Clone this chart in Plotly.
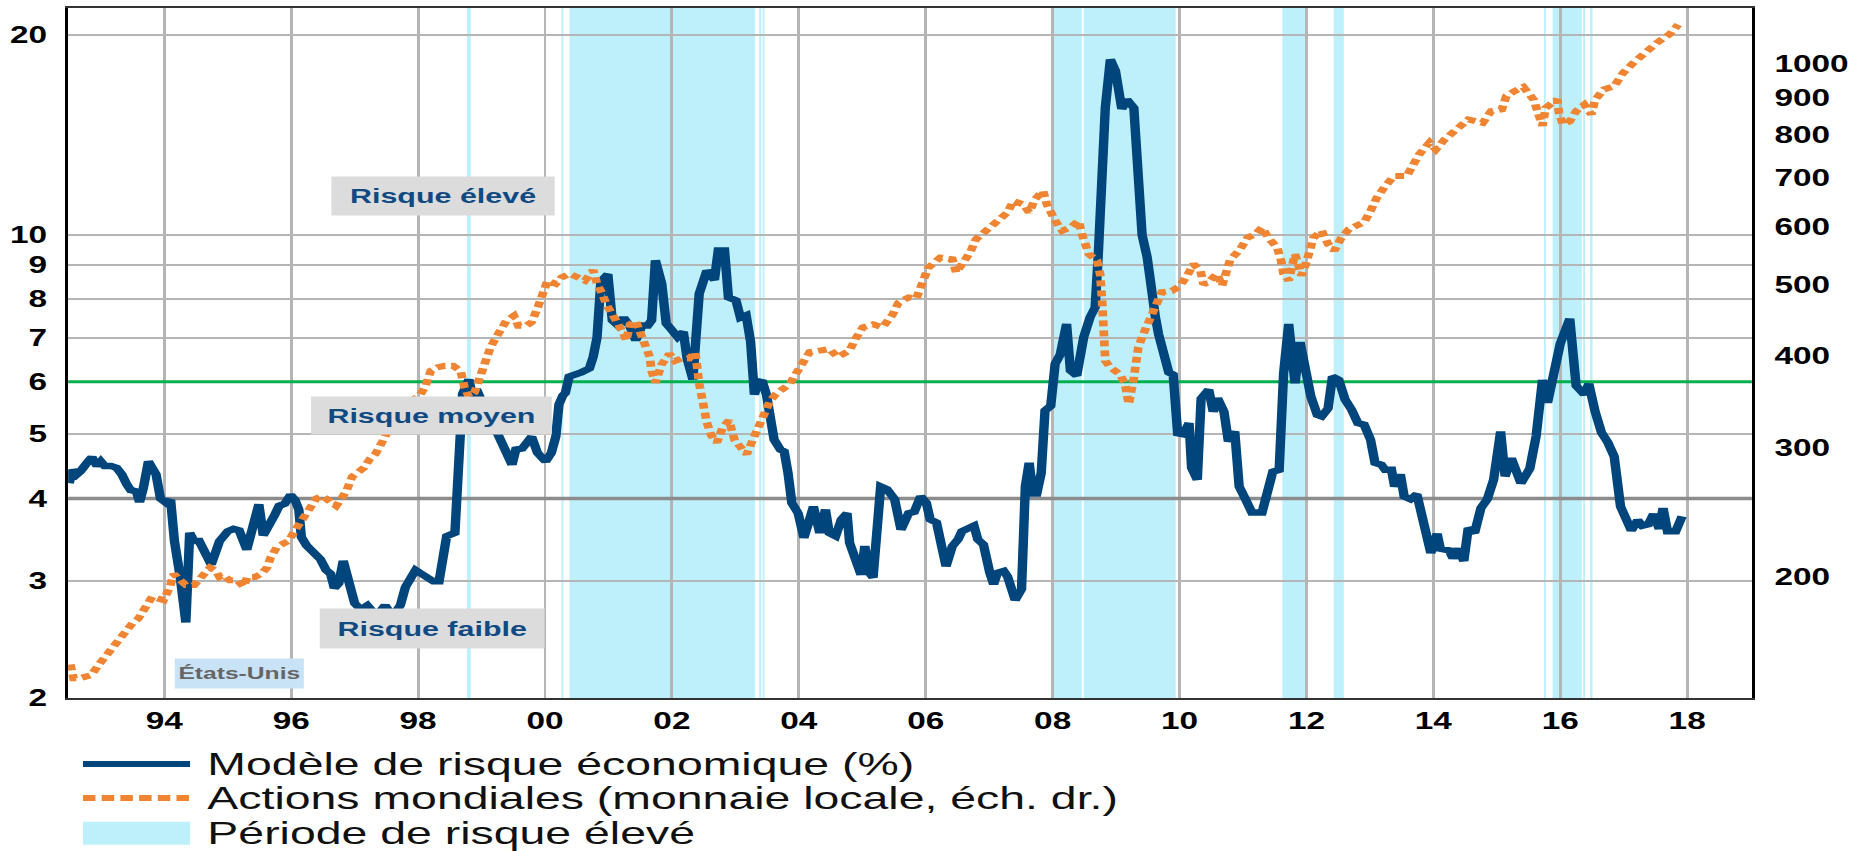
import math
import plotly.graph_objects as go

# Modèle de risque économique (%) - dates (decimal years) and values
risk_years = [
    1992.50, 1992.56, 1992.62, 1992.68, 1992.80, 1992.86, 1992.94, 1993.00, 1993.06, 1993.16,
    1993.25, 1993.33, 1993.41, 1993.47, 1993.56, 1993.61, 1993.67, 1993.75, 1993.81, 1993.87,
    1993.94, 1994.03, 1994.10, 1994.16, 1994.25, 1994.34, 1994.40, 1994.47, 1994.55, 1994.65,
    1994.74, 1994.87, 1995.00, 1995.09, 1995.18, 1995.30, 1995.43, 1995.49, 1995.56, 1995.65,
    1995.74, 1995.81, 1995.90, 1995.99, 1996.06, 1996.12, 1996.16, 1996.24, 1996.34, 1996.46,
    1996.55, 1996.62, 1996.68, 1996.75, 1996.82, 1996.90, 1997.00, 1997.10, 1997.20, 1997.30,
    1997.40, 1997.48, 1997.55, 1997.64, 1997.72, 1997.80, 1997.88, 1997.96, 1998.05, 1998.14,
    1998.24, 1998.33, 1998.45, 1998.58, 1998.64, 1998.70, 1998.80, 1998.86, 1998.92, 1999.00,
    1999.10, 1999.20, 1999.33, 1999.48, 1999.54, 1999.64, 1999.79, 1999.88, 2000.01, 2000.10,
    2000.17, 2000.22, 2000.28, 2000.32, 2000.38, 2000.48, 2000.57, 2000.70, 2000.76, 2000.82,
    2000.88, 2000.99, 2001.06, 2001.15, 2001.24, 2001.33, 2001.43, 2001.53, 2001.62, 2001.68,
    2001.74, 2001.84, 2001.91, 2001.99, 2002.09, 2002.18, 2002.24, 2002.33, 2002.43, 2002.55,
    2002.67, 2002.73, 2002.83, 2002.89, 2003.01, 2003.08, 2003.17, 2003.24, 2003.27, 2003.30,
    2003.36, 2003.42, 2003.49, 2003.55, 2003.61, 2003.71, 2003.77, 2003.83, 2003.89, 2003.99,
    2004.08, 2004.14, 2004.23, 2004.33, 2004.42, 2004.48, 2004.58, 2004.67, 2004.76, 2004.80,
    2004.89, 2004.98, 2005.04, 2005.11, 2005.17, 2005.23, 2005.29, 2005.39, 2005.51, 2005.61,
    2005.73, 2005.82, 2005.92, 2006.01, 2006.07, 2006.17, 2006.26, 2006.32, 2006.42, 2006.51,
    2006.57, 2006.76, 2006.82, 2006.91, 2007.01, 2007.07, 2007.13, 2007.23, 2007.29, 2007.35,
    2007.41, 2007.51, 2007.57, 2007.63, 2007.69, 2007.75, 2007.82, 2007.88, 2007.97, 2008.04,
    2008.12, 2008.22, 2008.28, 2008.38, 2008.43, 2008.49, 2008.59, 2008.67, 2008.72, 2008.78,
    2008.83, 2008.91, 2008.99, 2009.09, 2009.17, 2009.28, 2009.33, 2009.41, 2009.49, 2009.56,
    2009.62, 2009.67, 2009.77, 2009.83, 2009.90, 2009.97, 2010.06, 2010.15, 2010.19, 2010.28,
    2010.34, 2010.46, 2010.53, 2010.60, 2010.70, 2010.77, 2010.87, 2010.94, 2011.04, 2011.14,
    2011.30, 2011.40, 2011.47, 2011.57, 2011.64, 2011.72, 2011.82, 2011.90, 2012.00, 2012.07,
    2012.17, 2012.24, 2012.34, 2012.41, 2012.51, 2012.61, 2012.71, 2012.81, 2012.91, 2013.01,
    2013.08, 2013.18, 2013.24, 2013.34, 2013.39, 2013.48, 2013.54, 2013.64, 2013.74, 2013.84,
    2013.96, 2014.06, 2014.11, 2014.25, 2014.31, 2014.39, 2014.48, 2014.55, 2014.65, 2014.75,
    2014.85, 2014.95, 2015.06, 2015.13, 2015.23, 2015.38, 2015.52, 2015.62, 2015.72, 2015.80,
    2015.90, 2016.00, 2016.15, 2016.25, 2016.38, 2016.45, 2016.55, 2016.65, 2016.75, 2016.85,
    2016.95, 2017.05, 2017.12, 2017.22, 2017.29, 2017.39, 2017.47, 2017.56, 2017.62, 2017.69,
    2017.82, 2017.92,
]
risk_values = [
    4.22, 4.42, 4.35, 4.40, 4.55, 4.62, 4.48, 4.55, 4.48, 4.48,
    4.45, 4.35, 4.20, 4.12, 4.10, 3.95, 4.15, 4.55, 4.45, 4.35,
    4.00, 3.94, 3.98, 3.45, 3.05, 2.60, 3.55, 3.45, 3.45, 3.30,
    3.18, 3.45, 3.57, 3.60, 3.58, 3.35, 3.70, 3.92, 3.52, 3.68,
    3.78, 3.90, 3.93, 4.05, 3.98, 3.85, 3.50, 3.40, 3.32, 3.24,
    3.12, 3.08, 2.93, 2.98, 3.22, 3.05, 2.78, 2.72, 2.76, 2.69,
    2.70, 2.76, 2.70, 2.69, 2.76, 2.94, 3.02, 3.12, 3.08, 3.05,
    3.00, 3.00, 3.51, 3.55, 4.40, 5.75, 6.05, 5.70, 5.85, 5.60,
    5.35, 5.14, 4.80, 4.50, 4.74, 4.76, 4.96, 4.69, 4.55, 4.69,
    4.96, 5.55, 5.72, 5.77, 6.11, 6.18, 6.20, 6.29, 6.55, 7.00,
    8.50, 8.72, 7.43, 7.30, 7.50, 7.30, 6.93, 7.30, 7.30, 7.43,
    9.15, 8.44, 7.35, 7.20, 7.01, 7.14, 6.50, 6.05, 8.15, 8.83,
    8.55, 9.47, 9.47, 8.05, 7.96, 7.50, 7.56, 6.90, 6.18, 5.74,
    5.98, 6.03, 5.74, 5.26, 4.91, 4.74, 4.71, 4.37, 3.94, 3.80,
    3.49, 3.64, 3.89, 3.55, 3.85, 3.55, 3.51, 3.72, 3.80, 3.43,
    3.20, 3.07, 3.39, 3.09, 3.04, 3.47, 4.17, 4.13, 3.99, 3.59,
    3.80, 3.82, 4.03, 3.94, 3.72, 3.68, 3.35, 3.16, 3.39, 3.47,
    3.57, 3.64, 3.47, 3.41, 3.09, 2.97, 3.09, 3.11, 3.05, 2.88,
    2.81, 2.92, 4.17, 4.53, 4.07, 4.07, 4.37, 5.43, 5.52, 6.39,
    6.60, 7.34, 6.24, 6.13, 6.60, 7.01, 7.51, 7.77, 9.35, 12.3,
    15.55, 18.4, 17.7, 15.5, 16.0, 15.55, 12.3, 10.0, 9.25, 7.96,
    7.51, 7.08, 6.39, 6.20, 6.15, 5.02, 5.00, 5.20, 4.45, 4.27,
    5.66, 5.84, 5.41, 5.67, 5.41, 4.88, 5.05, 4.17, 3.99, 3.81,
    3.81, 4.13, 4.39, 4.42, 6.18, 7.34, 5.97, 6.89, 6.18, 5.70,
    5.35, 5.32, 5.47, 6.11, 6.04, 5.64, 5.45, 5.20, 5.17, 4.91,
    4.53, 4.50, 4.42, 4.42, 4.17, 4.35, 4.03, 3.99, 4.06, 3.71,
    3.31, 3.54, 3.36, 3.34, 3.25, 3.36, 3.22, 3.61, 3.55, 3.87,
    3.99, 4.27, 5.05, 4.32, 4.60, 4.22, 4.44, 4.97, 6.04, 5.58,
    6.10, 6.85, 7.47, 5.92, 5.74, 5.96, 5.41, 5.03, 4.86, 4.63,
    3.89, 3.71, 3.58, 3.71, 3.64, 3.66, 3.79, 3.60, 3.87, 3.57,
    3.57, 3.76,
]

# Actions mondiales (monnaie locale) - dates (decimal years) and index level
equity_years = [
    1992.52, 1992.57, 1992.66, 1992.85, 1992.97, 1993.10, 1993.22, 1993.35, 1993.50, 1993.59,
    1993.72, 1993.81, 1993.90, 1993.99, 1994.09, 1994.15, 1994.25, 1994.34, 1994.47, 1994.56,
    1994.65, 1994.72, 1994.81, 1994.87, 1994.93, 1995.03, 1995.15, 1995.25, 1995.31, 1995.43,
    1995.53, 1995.62, 1995.68, 1995.78, 1995.87, 1995.96, 1996.06, 1996.15, 1996.27, 1996.40,
    1996.49, 1996.59, 1996.71, 1996.78, 1996.87, 1996.96, 1997.05, 1997.15, 1997.24, 1997.33,
    1997.43, 1997.49, 1997.58, 1997.68, 1997.77, 1997.89, 1998.02, 1998.11, 1998.20, 1998.30,
    1998.42, 1998.55, 1998.67, 1998.73, 1998.80, 1998.89, 1998.95, 1999.05, 1999.14, 1999.20,
    1999.30, 1999.39, 1999.51, 1999.58, 1999.70, 1999.79, 1999.89, 1999.98, 2000.04, 2000.17,
    2000.26, 2000.39, 2000.51, 2000.63, 2000.76, 2000.82, 2000.90, 2000.97, 2001.07, 2001.18,
    2001.24, 2001.28, 2001.34, 2001.43, 2001.49, 2001.59, 2001.65, 2001.68, 2001.74, 2001.84,
    2001.96, 2002.05, 2002.15, 2002.27, 2002.37, 2002.43, 2002.50, 2002.55, 2002.62, 2002.71,
    2002.80, 2002.90, 2002.99, 2003.08, 2003.18, 2003.27, 2003.36, 2003.46, 2003.55, 2003.64,
    2003.74, 2003.86, 2003.95, 2004.05, 2004.17, 2004.33, 2004.48, 2004.61, 2004.80, 2004.89,
    2005.01, 2005.17, 2005.32, 2005.48, 2005.57, 2005.73, 2005.85, 2005.95, 2006.04, 2006.23,
    2006.42, 2006.48, 2006.57, 2006.70, 2006.79, 2006.95, 2007.10, 2007.29, 2007.38, 2007.54,
    2007.63, 2007.72, 2007.85, 2007.91, 2008.04, 2008.15, 2008.28, 2008.41, 2008.46, 2008.57,
    2008.70, 2008.75, 2008.78, 2008.80, 2008.83, 2008.91, 2009.06, 2009.14, 2009.17, 2009.20,
    2009.28, 2009.35, 2009.43, 2009.54, 2009.62, 2009.72, 2009.88, 2010.01, 2010.12, 2010.22,
    2010.33, 2010.38, 2010.48, 2010.59, 2010.67, 2010.80, 2010.94, 2011.07, 2011.20, 2011.30,
    2011.40, 2011.54, 2011.60, 2011.64, 2011.72, 2011.77, 2011.82, 2011.87, 2011.92, 2012.00,
    2012.11, 2012.24, 2012.34, 2012.44, 2012.54, 2012.67, 2012.91, 2013.01, 2013.11, 2013.24,
    2013.38, 2013.58, 2013.68, 2013.78, 2013.94, 2014.04, 2014.18, 2014.38, 2014.55, 2014.78,
    2014.91, 2015.08, 2015.15, 2015.28, 2015.42, 2015.58, 2015.65, 2015.72, 2015.77, 2015.88,
    2015.95, 2015.98, 2016.04, 2016.15, 2016.25, 2016.38, 2016.49, 2016.55, 2016.69, 2016.85,
    2016.99, 2017.15, 2017.32, 2017.52, 2017.72, 2017.86,
]
equity_values = [
    152, 145.5, 145.5, 147, 152, 157, 162, 168, 173, 175.5,
    184, 188, 187, 186, 194, 202, 198, 195, 195, 199,
    202, 206, 204, 200, 201, 198, 198, 194, 200, 200,
    202, 206, 213, 220, 222, 224, 231.6, 237.7, 246.5, 256,
    258, 255, 250, 255, 262, 274, 278, 282, 289.7, 294.5,
    305, 314, 323, 332, 342.5, 348, 353, 363, 382, 386,
    388, 388, 382, 363, 352, 357, 370, 394, 411, 420,
    433, 447, 454, 440, 440, 445, 467, 491, 507, 502,
    512, 518, 512, 507, 524, 502, 487, 470, 455, 440,
    429, 420, 442, 447, 433, 411, 399, 382, 368, 390,
    403, 394, 397, 397, 405, 367, 341, 325, 312, 305,
    320, 327, 307, 301, 294, 307, 320, 335, 348, 355,
    361, 367, 378, 392, 405, 407, 409, 399, 407, 422,
    438, 442, 438, 456, 473, 481, 479, 504, 528, 545,
    542, 520, 534, 554, 577, 593, 608, 628, 651, 644,
    628, 654, 672, 644, 612, 593, 599, 612, 587, 551,
    540, 517, 476, 429, 394, 386, 378, 367, 352, 344,
    374, 411, 429, 452, 471, 489, 491, 499, 515, 534,
    523, 501, 507, 518, 499, 542, 557, 580, 587, 599,
    580, 562, 540, 518, 507, 528, 551, 534, 515, 537,
    580, 593, 569, 557, 578, 596, 609, 631, 658, 682,
    704, 704, 727, 754, 782, 765, 790, 815, 841, 832,
    863, 868, 905, 919, 931, 895, 863, 824, 872, 886,
    895, 859, 828, 836, 863, 881, 854, 895, 924, 933,
    973, 1004, 1036, 1069, 1098, 1132,
]

# Période de risque élevé - start / end of each shaded period
high_risk_start = [1998.77, 2000.26, 2000.385, 2003.375, 2003.43, 2008.015, 2008.49,
                   2011.62, 2012.43, 2015.742, 2015.88, 2016.36, 2016.47]
high_risk_end = [1998.83, 2000.29, 2003.31, 2003.41, 2003.46, 2008.46, 2009.94,
                 2012.01, 2012.59, 2015.773, 2016.34, 2016.39, 2016.51]

x_tick_years = [1994, 1996, 1998, 2000, 2002, 2004, 2006, 2008, 2010, 2012, 2014, 2016, 2018]
x_tick_labels = ["94", "96", "98", "00", "02", "04", "06", "08", "10", "12", "14", "16", "18"]
left_ticks = [2, 3, 4, 5, 6, 7, 8, 9, 10, 20]
right_ticks = [200, 300, 400, 500, 600, 700, 800, 900, 1000]

low_risk_level = 4
high_risk_level = 6

# ---- styling -------------------------------------------------------------
BLUE = "#00457C"
ORANGE = "#EF8532"
CYAN = "#BEF0FC"
GREEN = "#00B04F"
GRID = "#B5B5B5"
LABEL_BLUE = "#0F4A82"
FONT = "Liberation Sans, Arial, sans-serif"

WIDTH, HEIGHT = 1286, 851
STRETCH = 1865 / WIDTH           # horizontal stretch applied to the finished page
X_RANGE = [1992.485, 2019.02]

fig = go.Figure()

# reference levels
fig.add_trace(go.Scatter(x=X_RANGE, y=[low_risk_level] * 2, mode="lines",
                         line=dict(color="#8C8C8C", width=3.5),
                         hoverinfo="skip", showlegend=False))
fig.add_trace(go.Scatter(x=X_RANGE, y=[high_risk_level] * 2, mode="lines",
                         line=dict(color=GREEN, width=3),
                         hoverinfo="skip", showlegend=False))

fig.add_trace(go.Scatter(x=risk_years, y=risk_values, mode="lines",
                         name="Modèle de risque économique (%)",
                         line=dict(color=BLUE, width=6.5, shape="linear"),
                         showlegend=False))
fig.add_trace(go.Scatter(x=equity_years, y=equity_values, mode="lines", yaxis="y2",
                         name="Actions mondiales (monnaie locale, éch. dr.)",
                         line=dict(color=ORANGE, width=6, dash="6px,4px"),
                         showlegend=False))

shapes = []
for x0, x1 in zip(high_risk_start, high_risk_end):
    shapes.append(dict(type="rect", xref="x", yref="paper", x0=x0, x1=x1, y0=0, y1=1,
                       fillcolor=CYAN, line=dict(width=0), layer="below"))

# hand-built legend below the plot
LEG_X0, LEG_X1, LEG_TX = 0.0088, 0.0724, 0.0813
leg_rows = [-0.0955, -0.1450, -0.1960]
shapes.append(dict(type="line", xref="paper", yref="paper", x0=LEG_X0, x1=LEG_X1,
                   y0=leg_rows[0], y1=leg_rows[0], line=dict(color=BLUE, width=6)))
shapes.append(dict(type="line", xref="paper", yref="paper", x0=LEG_X0, x1=LEG_X1,
                   y0=leg_rows[1], y1=leg_rows[1],
                   line=dict(color=ORANGE, width=6, dash="8.6px,4.3px")))
shapes.append(dict(type="rect", xref="paper", yref="paper", x0=LEG_X0, x1=LEG_X1,
                   y0=leg_rows[2] - 0.0165, y1=leg_rows[2] + 0.0165,
                   fillcolor=CYAN, line=dict(width=0)))

legend_texts = ["Modèle de risque économique (%)",
                "Actions mondiales (monnaie locale, éch. dr.)",
                "Période de risque élevé"]
annotations = []
for txt, yy in zip(legend_texts, leg_rows):
    annotations.append(dict(text=txt, xref="paper", yref="paper", x=LEG_TX, y=yy,
                            xanchor="left", yanchor="middle", showarrow=False,
                            font=dict(family=FONT, size=32, color="#111111")))

# risk-zone labels
zone_labels = [("Risque élevé", 0.2226, 0.7269, 153, 38),
               ("Risque moyen", 0.2158, 0.4097, 165, 37),
               ("Risque faible", 0.2159, 0.1004, 154, 39)]
for txt, xx, yy, w, h in zone_labels:
    annotations.append(dict(text=txt, xref="paper", yref="paper", x=xx, y=yy,
                            xanchor="center", yanchor="middle", showarrow=False,
                            width=w, height=h, bgcolor="#DCDCDC", borderpad=0,
                            font=dict(family=FONT, size=21, color=LABEL_BLUE, weight="bold")))
annotations.append(dict(text="États-Unis", xref="paper", yref="paper", x=0.1019, y=0.0354,
                        xanchor="center", yanchor="middle", showarrow=False,
                        width=88, height=29, bgcolor="#C8E2F6", borderpad=0,
                        font=dict(family=FONT, size=17, color="#666666", weight="bold")))

tick_font = dict(family=FONT, size=23, color="black", weight="bold")

fig.update_layout(
    width=WIDTH, height=HEIGHT, autosize=False,
    margin=dict(l=47, r=78, t=6, b=153, pad=0),
    paper_bgcolor="white", plot_bgcolor="white",
    showlegend=False,
    shapes=shapes, annotations=annotations,
    xaxis=dict(range=X_RANGE, tickmode="array", tickvals=x_tick_years, ticktext=x_tick_labels,
               showgrid=True, gridcolor=GRID, gridwidth=2, zeroline=False,
               showline=True, linecolor="#333333", linewidth=2, mirror=True,
               ticks="", ticklabelstandoff=1, tickfont=tick_font),
    yaxis=dict(type="log", range=[math.log10(2), math.log10(22)],
               tickmode="array", tickvals=left_ticks, ticktext=[str(v) for v in left_ticks],
               showgrid=True, gridcolor=GRID, gridwidth=2, zeroline=False,
               showline=True, linecolor="black", linewidth=2,
               ticks="", ticklabelstandoff=8, tickfont=tick_font),
    yaxis2=dict(type="log", overlaying="y", side="right",
                range=[math.log10(136.8), math.log10(1193)],
                tickmode="array", tickvals=right_ticks, ticktext=[str(v) for v in right_ticks],
                showgrid=False, zeroline=False,
                showline=True, linecolor="black", linewidth=2,
                ticks="", ticklabelstandoff=9, tickfont=tick_font),
)

post = ("var gd=document.getElementById('{plot_id}');"
        "document.body.style.margin='0';"
        "gd.style.transformOrigin='0 0';"
        "gd.style.transform='scaleX(%.5f)';" % STRETCH)

fig.write_html("out.html", post_script=post,
               config={"displayModeBar": False, "responsive": False})
